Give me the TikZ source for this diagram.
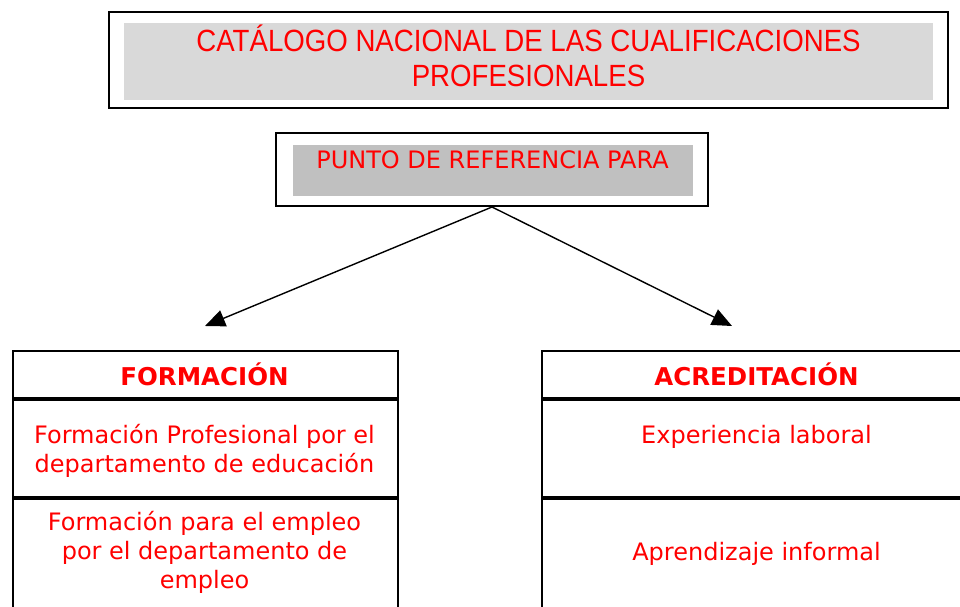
\documentclass[tikz,border=0pt]{standalone}
\usepackage{fontspec}
\setmainfont{DejaVu Sans}
\newfontfamily\titulofuente[FakeStretch=0.9]{Liberation Sans}
\usetikzlibrary{arrows.meta}
\definecolor{rojo}{RGB}{255,0,0}
\definecolor{grisclaro}{RGB}{217,217,217}
\definecolor{grisoscuro}{RGB}{192,192,192}

\begin{document}
\begin{tikzpicture}[x=1pt,y=-1pt,
    marco/.style={draw,line width=2pt,inner sep=0pt},
    relleno/.style={fill=#1,inner sep=0pt},
    celda/.style={draw,line width=2pt,inner sep=0pt,anchor=north west,minimum width=#1},
    titulo/.style={text=rojo,align=center,inner sep=0pt,anchor=base,font=\titulofuente\fontsize{30.7}{35}\selectfont},
    texto/.style={text=rojo,align=center,inner sep=0pt,anchor=base,font=\fontsize{24}{28.7}\selectfont},
    cabecera/.style={text=rojo,inner sep=0pt,anchor=base,font=\bfseries\fontsize{24.5}{26}\selectfont},
    flecha/.style={-{Triangle[length=20pt,width=17pt]},line width=1.4pt}]
  \path[use as bounding box,clip] (0,0) rectangle (960,607);
  \node[marco,minimum width=839pt,minimum height=96pt] (catalogo) at (528.5,60.5) {};
  \node[relleno=grisclaro,minimum width=809pt,minimum height=77pt] (catalogofondo) at (528.5,61.5) {};
  \node[titulo] (catalogotexto) at (528.5,87) {CATÁLOGO NACIONAL DE LAS CUALIFICACIONES\\PROFESIONALES};
  \node[marco,minimum width=432pt,minimum height=73pt] (punto) at (492,169.5) {};
  \node[relleno=grisoscuro,minimum width=400pt,minimum height=51pt] (puntofondo) at (492.5,170.5) {};
  \node[texto] (puntotexto) at (492.5,168) {PUNTO DE REFERENCIA PARA};
  \coordinate (puntaformacion) at (205,326);
  \coordinate (puntaacreditacion) at (732,326);
  \draw[flecha] (punto.south) -- (puntaformacion);
  \draw[flecha] (punto.south) -- (puntaacreditacion);
  \node[celda=385pt,minimum height=47pt] (formacion) at (12,350) {};
  \node[celda=385pt,minimum height=97pt] (formacionuno) at (formacion.south west) {};
  \node[celda=385pt,minimum height=150pt] (formaciondos) at (formacionuno.south west) {};
  \node[celda=431pt,minimum height=47pt] (acreditacion) at (541,350) {};
  \node[celda=431pt,minimum height=97pt] (acreditacionuno) at (acreditacion.south west) {};
  \node[celda=431pt,minimum height=150pt] (acreditaciondos) at (acreditacionuno.south west) {};
  \node[cabecera] (formaciontexto) at (204.5,385) {FORMACIÓN};
  \node[texto] (formacionunotexto) at (204.5,472) {Formación Profesional por el\\departamento de educación};
  \node[texto] (formaciondostexto) at (204.5,588) {Formación para el empleo\\por el departamento de\\empleo};
  \node[cabecera] (acreditaciontexto) at (756.5,385) {ACREDITACIÓN};
  \node[texto] (acreditacionunotexto) at (756.5,443) {Experiencia laboral};
  \node[texto] (acreditaciondostexto) at (756.5,560) {Aprendizaje informal};
\end{tikzpicture}
\end{document}
